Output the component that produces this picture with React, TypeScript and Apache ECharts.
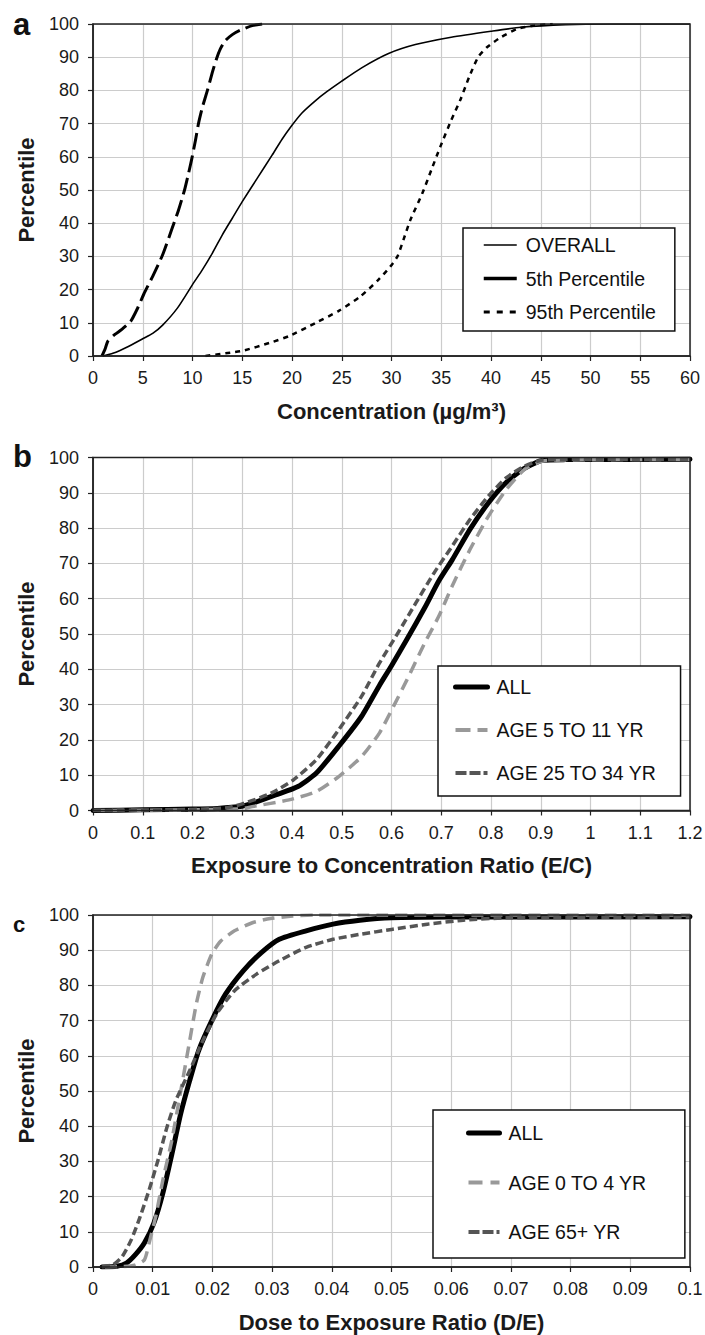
import React, { useEffect, useRef } from "react";
import * as echarts from "echarts";

const FONT = "'Liberation Sans', Arial, Helvetica, sans-serif";

// ---------- Panel a: Concentration ----------
const concOverall: [number, number][] = [
  [1.0, 0], [2, 0.8], [3.5, 2.8], [5, 5.2], [6, 6.8], [7, 9.3], [8.5, 14.5], [10, 21.5],
  [11, 26], [12, 31], [13, 36.5], [14, 41.5], [15, 46.5], [16.5, 53.5], [18, 60.5], [19, 65.3],
  [20, 69.5], [21, 73.2], [22.4, 77], [23.5, 79.6], [25, 82.8], [27, 86.8], [29.7, 91.1],
  [32.4, 93.8], [36, 96], [40, 97.8], [43, 99], [47.5, 99.8], [52, 100], [60, 100],
];
const conc5th: [number, number][] = [
  [0.9, 0], [1.2, 2], [1.5, 4.5], [2.2, 6.5], [2.9, 8], [3.8, 10.5], [4.5, 14.5], [5.1, 18.6],
  [6, 24], [7, 30.5], [7.9, 38], [8.6, 44], [9.2, 50], [9.6, 55], [9.9, 59], [10.3, 65],
  [10.6, 70], [11, 75], [11.5, 80], [12, 85.5], [12.4, 89.4], [12.8, 92.5], [13.3, 95],
  [14, 96.8], [14.7, 98], [16, 99.5], [17, 100],
];
const conc95th: [number, number][] = [
  [11.3, 0], [13.8, 1], [15.1, 1.6], [17.8, 4], [19.7, 6], [22.4, 10], [24.7, 13.6],
  [26.9, 18], [28.7, 23], [29.9, 27], [30.6, 30], [31.2, 35], [31.9, 41], [33.1, 49],
  [34, 56], [34.9, 63], [36, 71], [36.9, 77], [37.8, 84], [38.7, 90], [39.6, 93], [41, 96],
  [42.6, 98.5], [44.2, 99.5], [46.2, 100],
];

// ---------- Panel b: E/C ratio ----------
const ecAll: [number, number][] = [
  [0, 0], [0.1, 0.2], [0.2, 0.4], [0.25, 0.6], [0.3, 1.2], [0.32, 2], [0.367, 4.4],
  [0.412, 6.8], [0.449, 10.6], [0.494, 18.2], [0.54, 26.7], [0.576, 35.5], [0.6, 41],
  [0.631, 48.5], [0.667, 57.5], [0.695, 65], [0.722, 71], [0.758, 79.7], [0.795, 87.2],
  [0.831, 93], [0.868, 97], [0.904, 99.2], [0.95, 99.4], [1.2, 99.5],
];
const ecAge5to11: [number, number][] = [
  [0, 0], [0.2, 0.2], [0.3, 0.5], [0.32, 1.1], [0.394, 3], [0.449, 5.4], [0.494, 9.6],
  [0.54, 15.3], [0.576, 22], [0.604, 29.5], [0.631, 37], [0.667, 47.5], [0.695, 55],
  [0.722, 63.6], [0.758, 74], [0.795, 83.4], [0.831, 91], [0.868, 96.7], [0.904, 99],
  [0.95, 99.3], [1.2, 99.5],
];
const ecAge25to34: [number, number][] = [
  [0, 0], [0.2, 0.3], [0.27, 0.8], [0.303, 2], [0.358, 4.9], [0.403, 8.7], [0.449, 14.4],
  [0.494, 22.9], [0.54, 32.4], [0.576, 41.8], [0.613, 50.3], [0.649, 58.8], [0.686, 67.4],
  [0.722, 74.9], [0.758, 82.5], [0.795, 89.1], [0.831, 94.3], [0.868, 97.6], [0.904, 99.3],
  [0.95, 99.4], [1.2, 99.5],
];

// ---------- Panel c: D/E ratio ----------
const deAll: [number, number][] = [
  [0.0015, 0], [0.004, 0.2], [0.0056, 1.1], [0.0071, 3.5], [0.0086, 6.8], [0.0102, 12.5],
  [0.0117, 21], [0.0132, 32], [0.0147, 43.6], [0.0162, 53], [0.0177, 61.5], [0.0199, 70],
  [0.0222, 77.5], [0.0252, 84.2], [0.0282, 89.3], [0.0312, 93.1], [0.0357, 95.5],
  [0.0402, 97.4], [0.0447, 98.5], [0.05, 99.2], [0.06, 99.4], [0.1, 99.5],
];
const deAge0to4: [number, number][] = [
  [0.002, 0], [0.005, 0.1], [0.007, 0.5], [0.0086, 2], [0.0094, 6.8], [0.0105, 14.3],
  [0.0117, 24.7], [0.0132, 36], [0.0147, 50], [0.0162, 64.3], [0.0173, 74.7],
  [0.0184, 82.3], [0.0199, 88.9], [0.0214, 92.6], [0.0237, 95.5], [0.0267, 97.8],
  [0.0297, 99], [0.0335, 99.7], [0.0372, 100], [0.1, 100],
];
const deAge65plus: [number, number][] = [
  [0.0015, 0], [0.0034, 0.7], [0.0049, 3], [0.0064, 7.7], [0.0079, 14.3], [0.0094, 21.9],
  [0.0109, 30.4], [0.0124, 39.8], [0.0139, 47.4], [0.0162, 55.8], [0.0184, 64.3],
  [0.0207, 71.9], [0.0237, 78.5], [0.0274, 83.2], [0.0312, 87], [0.0357, 90.8],
  [0.0402, 93.1], [0.0447, 94.5], [0.05, 95.9], [0.056, 97.4], [0.062, 98.5],
  [0.0695, 99.2], [0.1, 99.4],
];

const panelLetters = ["a", "b", "c"];
const xTitles = [
  "Concentration (µg/m³)",
  "Exposure to Concentration Ratio (E/C)",
  "Dose to Exposure Ratio (D/E)",
];
const yTitle = "Percentile";
const xRanges = [
  { min: 0, max: 60, interval: 5 },
  { min: 0, max: 1.2, interval: 0.1 },
  { min: 0, max: 0.1, interval: 0.01 },
];

const fmt = (v: number) => String(parseFloat(v.toFixed(4)));

function buildOption() {
  const grids = [
    { left: 93, top: 24, width: 597, height: 332 },
    { left: 93, top: 457.5, width: 597, height: 353 },
    { left: 93, top: 915, width: 597, height: 352 },
  ].map((g) => ({
    ...g,
    show: true,
    z: 3,
    borderColor: "#222",
    borderWidth: 1.5,
    backgroundColor: "transparent",
    containLabel: false,
    outerBoundsMode: "none",
  }));

  const axisCommon = {
    axisLine: { show: true, onZero: false, lineStyle: { color: "#222", width: 1.5 } },
    axisTick: { show: true, inside: false, length: 5, lineStyle: { color: "#222", width: 1.2 } },
    splitLine: { show: true, lineStyle: { color: "#cccccc", width: 1.2 } },
    nameLocation: "middle" as const,
    nameTextStyle: { fontSize: 22, fontWeight: "bold", fontFamily: FONT, color: "#1a1a1a" },
  };

  const xAxis = xRanges.map((r, i) => ({
    ...axisCommon,
    type: "value",
    gridIndex: i,
    min: r.min,
    max: r.max,
    interval: r.interval,
    name: xTitles[i],
    nameGap: 44,
    axisLabel: { color: "#1a1a1a", fontSize: 18, fontFamily: FONT, margin: 13, formatter: fmt },
  }));

  const yAxis = [0, 1, 2].map((i) => ({
    ...axisCommon,
    type: "value",
    gridIndex: i,
    min: 0,
    max: 100,
    interval: 10,
    name: yTitle,
    nameGap: 56,
    nameRotate: 90,
    axisLabel: { color: "#1a1a1a", fontSize: 18, fontFamily: FONT, margin: 14 },
  }));

  const line = (
    name: string,
    idx: number,
    data: [number, number][],
    color: string,
    width: number,
    type: any,
    cap: string = "butt"
  ) => ({
    type: "line",
    name,
    xAxisIndex: idx,
    yAxisIndex: idx,
    data,
    symbol: "none",
    showSymbol: false,
    smooth: 0.2,
    silent: true,
    itemStyle: { color },
    lineStyle: { color, width, type, cap, join: "round" },
    z: 2,
  });

  const series = [
    line("OVERALL", 0, concOverall, "#000", 1.6, "solid"),
    line("5th Percentile", 0, conc5th, "#000", 3, [17, 6]),
    line("95th Percentile", 0, conc95th, "#000", 2.5, [5, 5]),
    line("ALL", 1, ecAll, "#000", 5, "solid", "round"),
    line("AGE 5 TO 11 YR", 1, ecAge5to11, "#999999", 3.5, [12, 7]),
    line("AGE 25 TO 34 YR", 1, ecAge25to34, "#555555", 3.5, [8, 4]),
    line("ALL", 2, deAll, "#000", 5, "solid", "round"),
    line("AGE 0 TO 4 YR", 2, deAge0to4, "#999999", 3.5, [12, 7]),
    line("AGE 65+ YR", 2, deAge65plus, "#555555", 3.5, [8, 4]),
  ];

  const legendBase = {
    show: true,
    orient: "vertical",
    itemHeight: 20,
    backgroundColor: "#fff",
    borderColor: "#111",
    borderWidth: 1.5,
    borderRadius: 0,
    selectedMode: false,
    itemStyle: { opacity: 0 },
    textStyle: { fontSize: 19.5, color: "#111", fontFamily: FONT, lineHeight: 20, padding: [0, 0, 0, 4] },
    z: 5,
  };

  const legend = [
    {
      ...legendBase,
      left: 463,
      top: 228,
      padding: [7, 19, 9, 19],
      itemGap: 13.5,
      itemWidth: 33,
      data: [
        { name: "OVERALL", lineStyle: { width: 1.6, type: "solid" } },
        { name: "5th Percentile", lineStyle: { width: 3.5, type: "solid" } },
        { name: "95th Percentile", lineStyle: { width: 3, type: [6, 7] } },
      ],
    },
    {
      ...legendBase,
      left: 438,
      top: 666,
      padding: [11, 24, 13, 15],
      itemGap: 23,
      itemWidth: 32,
      data: [
        { name: "ALL", lineStyle: { width: 5, type: "solid", cap: "round" } },
        { name: "AGE 5 TO 11 YR", lineStyle: { width: 4, type: [15, 7] } },
        { name: "AGE 25 TO 34 YR", lineStyle: { width: 4, type: [11, 3] } },
      ],
    },
    {
      ...legendBase,
      left: 433,
      top: 1110,
      padding: [13, 38, 16, 33],
      itemGap: 29.5,
      itemWidth: 31,
      data: [
        { name: "ALL", lineStyle: { width: 5, type: "solid", cap: "round" } },
        { name: "AGE 0 TO 4 YR", lineStyle: { width: 4, type: [14, 8] } },
        { name: "AGE 65+ YR", lineStyle: { width: 4, type: [11, 3] } },
      ],
    },
  ];

  const letterPos = [
    { x: 13, y: 24.3, size: 31 },
    { x: 13, y: 456.3, size: 31 },
    { x: 13, y: 924.1, size: 22 },
  ];
  const graphic = panelLetters.map((t, i) => ({
    type: "text",
    x: letterPos[i].x,
    y: letterPos[i].y,
    silent: true,
    style: {
      text: t,
      fill: "#111",
      fontSize: letterPos[i].size,
      fontWeight: "bold",
      fontFamily: FONT,
      align: "left",
      verticalAlign: "middle",
    },
  }));

  return {
    animation: false,
    backgroundColor: "#fff",
    grid: grids,
    xAxis,
    yAxis,
    series,
    legend,
    graphic,
  };
}

export default function App() {
  const ref = useRef<HTMLDivElement>(null);
  useEffect(() => {
    if (!ref.current) return;
    const chart = echarts.init(ref.current, null, { renderer: "svg" });
    chart.setOption(buildOption() as any);
    return () => chart.dispose();
  }, []);
  return (
    <div
      ref={ref}
      style={{ position: "absolute", left: 0, top: 0, width: 705, height: 1335, background: "#fff" }}
    />
  );
}
